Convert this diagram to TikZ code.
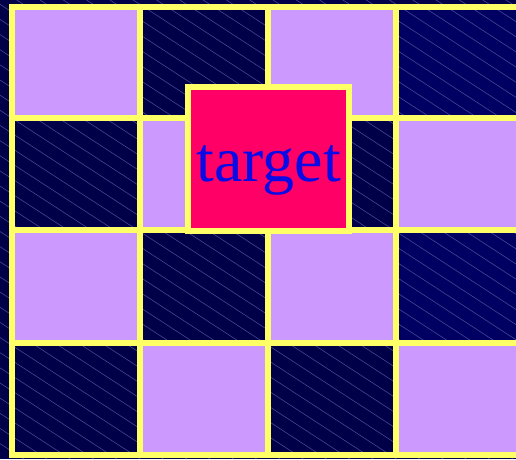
\documentclass[tikz,border=0pt]{standalone}
\usepackage{fontspec}
\setmainfont{Liberation Serif}
\definecolor{navy}{HTML}{000048}
\definecolor{navyb}{HTML}{000062}
\definecolor{lav}{HTML}{CC99FF}
\definecolor{yel}{HTML}{FFFF66}
\definecolor{pinkt}{HTML}{FF0066}
\definecolor{hatchc}{HTML}{4A4A98}
\definecolor{txt}{HTML}{0A0AE6}
\begin{document}
\begin{tikzpicture}[x=1pt,y=-1pt,
  lavcell/.style={fill=lav},
  gridline/.style={draw=yel,line width=6pt},
  hatchline/.style={draw=hatchc,line width=0.55pt},
  targetbox/.style={fill=pinkt,draw=yel,line width=6pt}]
\useasboundingbox (0,0) rectangle (516,459);
\clip (0,0) rectangle (516,459);
% background
\fill[navy] (0,0) rectangle (516,459);
\fill[navyb] (396,7) rectangle (524,118);
\fill[navyb] (396,230) rectangle (524,343);
% hatching
\foreach \k in {-32,...,23}{
  \pgfmathsetmacro\xa{16.7+23.3*\k}
  \draw[hatchline] (\xa,0) -- ({\xa+706},459);
}
% lavender cells
\fill[lavcell] (12,7) rectangle (140,118);
\fill[lavcell] (268,7) rectangle (396,118);
\fill[lavcell] (140,118) rectangle (268,230);
\fill[lavcell] (396,118) rectangle (524,230);
\fill[lavcell] (12,230) rectangle (140,343);
\fill[lavcell] (268,230) rectangle (396,343);
\fill[lavcell] (140,343) rectangle (268,455);
\fill[lavcell] (396,343) rectangle (524,455);
% grid
\foreach \y in {7,118,230,343,455}{
  \draw[gridline,line cap=rect] (12,\y) -- (530,\y);
}
\foreach \x in {12,140,268,396}{
  \draw[gridline,line cap=rect] (\x,7) -- (\x,455);
}
% target
\draw[targetbox] (188,87) rectangle (349,231);
\node[anchor=base,inner sep=0pt,text=txt,font=\fontsize{64}{70}\selectfont] (target) at (268.5,181) {target};
\end{tikzpicture}
\end{document}
